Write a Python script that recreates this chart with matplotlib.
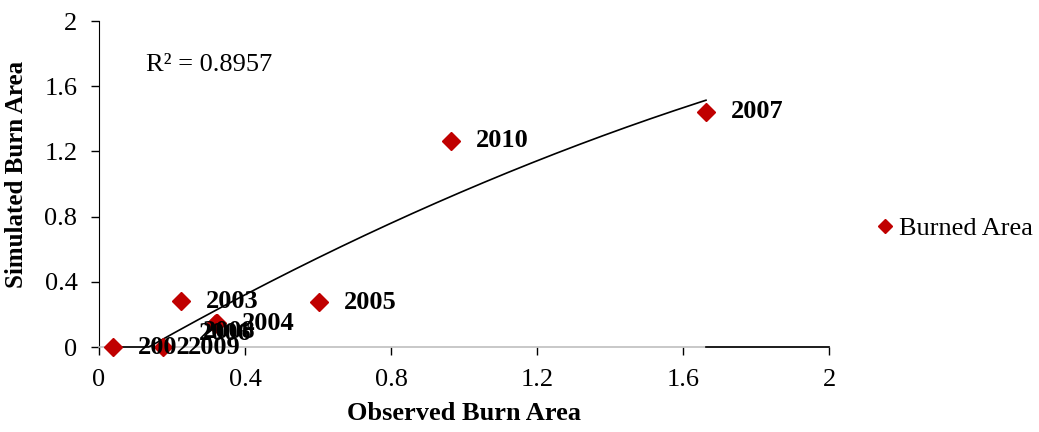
import numpy as np
import matplotlib
matplotlib.use("Agg")
import matplotlib.pyplot as plt

years = ['2002', '2003', '2004', '2005', '2006', '2007', '2008', '2009', '2010']
observed = [0.038, 0.225, 0.322, 0.603, 0.318, 1.663, 0.320, 0.175, 0.964]
simulated = [0.0, 0.282, 0.147, 0.276, 0.140, 1.442, 0.145, 0.0, 1.264]
r2_text = "R² = 0.8957"
xticks = [0, 0.4, 0.8, 1.2, 1.6, 2]
yticks = [0, 0.4, 0.8, 1.2, 1.6, 2]
xtick_labels = ['0', '0.4', '0.8', '1.2', '1.6', '2']
ytick_labels = ['0', '0.4', '0.8', '1.2', '1.6', '2']

plt.rcParams['font.family'] = ['Liberation Serif', 'DejaVu Serif']
red = '#C00000'

fig = plt.figure(figsize=(10.39, 4.32), dpi=100)
ax = fig.add_axes([99/1039, 1-347/432, (829-99)/1039, (347-21)/432])

obs = np.array(observed)
sim = np.array(simulated)

# trendline (2nd order polynomial fit)
coef = np.polyfit(obs, sim, 2)
xs = np.linspace(obs.min(), obs.max(), 300)
ys = np.clip(np.polyval(coef, xs), 0, None)
ax.plot(xs, ys, color='black', lw=1.2, zorder=3, clip_on=False)

ax.plot(obs, sim, linestyle='none', marker='D', markersize=9.5, color=red,
        markeredgecolor=red, zorder=4, clip_on=False, label='Burned Area')

# data labels
offsets = {y: (18, 0) for y in years}
offsets['2006'] = (-12, -7)
offsets['2008'] = (-9.5, -6)
for yr, x, y in zip(years, observed, simulated):
    dx, dy = offsets[yr]
    ax.annotate(yr, (x, y), xytext=(dx, dy), textcoords='offset points',
                ha='left', va='center', fontsize=19, fontweight='bold',
                zorder=6, annotation_clip=False)

ax.text(0.13, 1.73, r2_text, fontsize=19, ha='left', va='center')

ax.set_xlim(0, 2)
ax.set_ylim(0, 2)
ax.set_xticks(xticks)
ax.set_xticklabels(xtick_labels)
ax.set_yticks(yticks)
ax.set_yticklabels(ytick_labels)
ax.tick_params(axis='both', direction='out', length=5.5, width=1, labelsize=19, color='black')
ax.tick_params(axis='y', pad=10)
ax.tick_params(axis='x', pad=10)

for s in ['top', 'right']:
    ax.spines[s].set_visible(False)
ax.spines['left'].set_color('black')
ax.spines['bottom'].set_color('#BFBFBF')
ax.spines['bottom'].set_linewidth(1.2)
ax.plot([obs.max(), 2], [0, 0], color='black', lw=1.2, zorder=5, clip_on=False)

ax.set_xlabel('Observed Burn Area', fontsize=19, fontweight='bold', labelpad=8)
ax.set_ylabel('Simulated Burn Area', fontsize=18, fontweight='bold')
ax.yaxis.set_label_coords(-0.097, 0.528)

leg = ax.legend(loc='center left', bbox_to_anchor=(1.061, 0.365), frameon=False,
                fontsize=19, handletextpad=0.05, handlelength=0.9, markerscale=0.75,
                borderaxespad=0, borderpad=0)

fig.savefig('out.png', dpi=100)
